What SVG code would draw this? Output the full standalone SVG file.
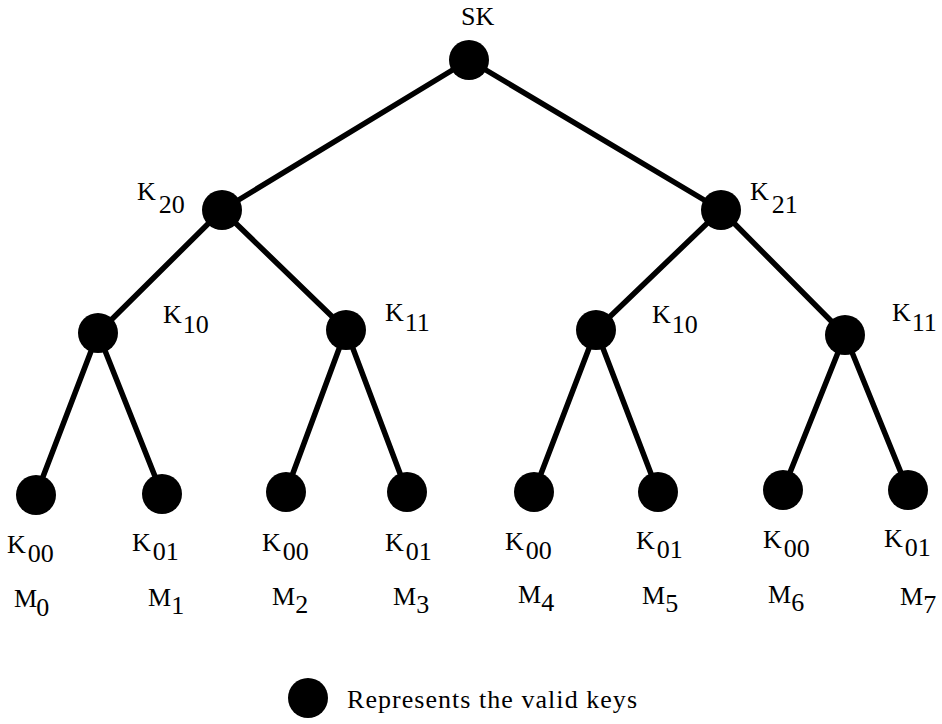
<svg xmlns="http://www.w3.org/2000/svg" width="942" height="724" viewBox="0 0 942 724">
<style>
.n{fill:#000}
.e line{stroke:#000;stroke-width:5.5;stroke-linecap:round}
text{font-family:"Liberation Serif","Times New Roman",serif;font-size:26px;fill:#000}
</style>
<rect width="942" height="724" fill="#fff"/>
<g class="e" id="connectors">
<line x1="469" y1="60" x2="222" y2="210"/>
<line x1="469" y1="60" x2="721" y2="210"/>
<line x1="222" y1="210" x2="98" y2="333"/>
<line x1="222" y1="210" x2="346" y2="330"/>
<line x1="721" y1="210" x2="596" y2="330"/>
<line x1="721" y1="210" x2="845" y2="335"/>
<line x1="98" y1="333" x2="36" y2="495"/>
<line x1="98" y1="333" x2="162" y2="494"/>
<line x1="346" y1="330" x2="286" y2="492"/>
<line x1="346" y1="330" x2="407" y2="492"/>
<line x1="596" y1="330" x2="534" y2="492"/>
<line x1="596" y1="330" x2="658" y2="492"/>
<line x1="845" y1="335" x2="783" y2="490"/>
<line x1="845" y1="335" x2="908" y2="490"/>
</g>
<g id="SK"><circle class="n" cx="469" cy="60" r="20"/><text x="461" y="25">SK</text></g>
<g id="K20"><circle class="n" cx="222" cy="210" r="20"/><text x="137" y="200">K<tspan dx="3" dy="13">20</tspan></text></g>
<g id="K21"><circle class="n" cx="721" cy="210" r="20"/><text x="750" y="200">K<tspan dx="3" dy="13">21</tspan></text></g>
<g id="K10a"><circle class="n" cx="98" cy="333" r="20"/><text x="163" y="323">K<tspan dx="1" dy="10">10</tspan></text></g>
<g id="K11a"><circle class="n" cx="346" cy="330" r="20"/><text x="385" y="321">K<tspan dx="1" dy="10">11</tspan></text></g>
<g id="K10b"><circle class="n" cx="596" cy="330" r="20"/><text x="652" y="323">K<tspan dx="1" dy="10">10</tspan></text></g>
<g id="K11b"><circle class="n" cx="845" cy="335" r="20"/><text x="892" y="321">K<tspan dx="1" dy="10">11</tspan></text></g>
<g id="L0"><circle class="n" cx="36" cy="495" r="20"/><text x="7" y="553">K<tspan dx="2" dy="9">00</tspan></text><text x="14" y="607">M<tspan dx="-1" dy="9">0</tspan></text></g>
<g id="L1"><circle class="n" cx="162" cy="494" r="20"/><text x="132" y="551">K<tspan dx="2" dy="9">01</tspan></text><text x="148" y="606">M<tspan dy="8">1</tspan></text></g>
<g id="L2"><circle class="n" cx="286" cy="492" r="20"/><text x="262" y="551">K<tspan dx="2" dy="9">00</tspan></text><text x="272" y="605">M<tspan dy="8">2</tspan></text></g>
<g id="L3"><circle class="n" cx="407" cy="492" r="20"/><text x="385" y="551">K<tspan dx="2" dy="9">01</tspan></text><text x="393" y="605">M<tspan dy="8">3</tspan></text></g>
<g id="L4"><circle class="n" cx="534" cy="492" r="20"/><text x="505" y="550">K<tspan dx="2" dy="9">00</tspan></text><text x="518" y="603">M<tspan dy="8">4</tspan></text></g>
<g id="L5"><circle class="n" cx="658" cy="492" r="20"/><text x="636" y="549">K<tspan dx="2" dy="9">01</tspan></text><text x="642" y="604">M<tspan dy="8">5</tspan></text></g>
<g id="L6"><circle class="n" cx="783" cy="490" r="20"/><text x="763" y="548">K<tspan dx="2" dy="9">00</tspan></text><text x="768" y="603">M<tspan dy="8">6</tspan></text></g>
<g id="L7"><circle class="n" cx="908" cy="490" r="20"/><text x="884" y="547">K<tspan dx="2" dy="9">01</tspan></text><text x="900" y="605">M<tspan dy="8">7</tspan></text></g>
<g id="legend"><circle class="n" cx="308" cy="698" r="20"/><text x="347" y="708" font-size="23" textLength="290" lengthAdjust="spacing">Represents the valid keys</text></g>
</svg>
